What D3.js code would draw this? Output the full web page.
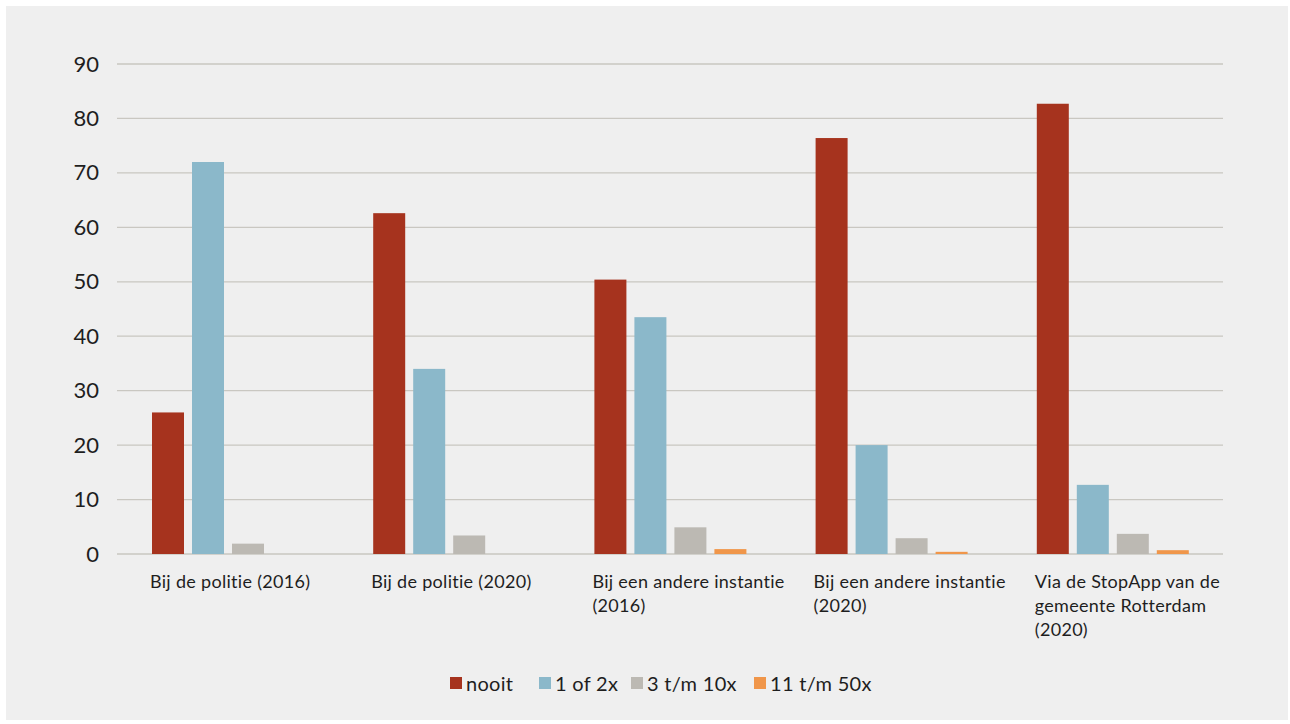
<!DOCTYPE html>
<html><head><meta charset="utf-8">
<script src="https://cdn.jsdelivr.net/npm/d3@7"></script>
<style>
html,body{margin:0;padding:0;background:#fff;}
svg{display:block;font-family:Lato,"Open Sans",sans-serif;}
</style></head><body>
<svg id="c" width="1290" height="724"></svg>
<script>
const categories = [
  ["Bij de politie (2016)"],
  ["Bij de politie (2020)"],
  ["Bij een andere instantie", "(2016)"],
  ["Bij een andere instantie", "(2020)"],
  ["Via de StopApp van de", "gemeente Rotterdam", "(2020)"]
];
const seriesNames = ["nooit", "1 of 2x", "3 t/m 10x", "11 t/m 50x"];
const nooit   = [26.0, 62.6, 50.4, 76.4, 82.7];
const eenOf2  = [72.0, 34.0, 43.5, 20.0, 12.7];
const drieTot10 = [1.9, 3.4, 4.9, 2.9, 3.7];
const elfTot50  = [0, 0, 0.9, 0.4, 0.7];
const yTicks = [0, 10, 20, 30, 40, 50, 60, 70, 80, 90];
const colors = ["#a6331e", "#8bb8ca", "#bcb9b3", "#f0964a"];

const series = [nooit, eenOf2, drieTot10, elfTot50];
const svg = d3.select("#c");
svg.append("rect").attr("x", 6).attr("y", 6).attr("width", 1282).attr("height", 714).attr("fill", "#efefef");

const mLeft = 117, mRight = 1223, mTop = 64, mBottom = 554;
const y = d3.scaleLinear().domain([0, 90]).range([mBottom, mTop]);
const x0 = d3.scaleBand().domain(d3.range(categories.length)).range([mLeft, mRight]).paddingInner(0).paddingOuter(0);
const x1 = d3.scaleBand().domain(d3.range(series.length)).range([35, 35 + 152]).paddingInner(0.2).paddingOuter(0);

// gridlines
svg.append("g").selectAll("line").data(yTicks).join("line")
  .attr("x1", mLeft).attr("x2", mRight)
  .attr("y1", d => y(d)).attr("y2", d => y(d))
  .attr("stroke", "#c9c7c1").attr("stroke-width", 1.3);

// y axis labels
const yAxis = d3.axisLeft(y).tickValues(yTicks).tickSize(0).tickPadding(0);
const ga = svg.append("g").attr("transform", `translate(${99},0)`).call(yAxis);
ga.select(".domain").remove();
ga.selectAll("text").attr("font-size", 22).attr("fill", "#1e1e1e").attr("font-family", "Lato, sans-serif");

// bars
const groups = svg.append("g").selectAll("g").data(categories).join("g")
  .attr("transform", (d, i) => `translate(${x0(i)},0)`);
groups.selectAll("rect").data((d, i) => series.map((s, j) => ({j, v: s[i]}))).join("rect")
  .attr("x", d => x1(d.j)).attr("width", x1.bandwidth())
  .attr("y", d => y(d.v)).attr("height", d => mBottom - y(d.v))
  .attr("fill", d => colors[d.j]);

// category labels
groups.each(function(lines, i) {
  const t = d3.select(this).append("text")
    .attr("x", x1(0) - 2).attr("y", 588)
    .attr("font-size", 18).attr("letter-spacing", 0.3).attr("fill", "#1e1e1e");
  lines.forEach((l, k) => t.append("tspan").attr("x", x1(0) - 2).attr("dy", k ? 24 : 0).text(l));
});

// legend
const legendX = [450, 539, 631, 754];
const lg = svg.append("g").selectAll("g").data(seriesNames).join("g")
  .attr("transform", (d, i) => `translate(${legendX[i]},677)`);
lg.append("rect").attr("width", 12).attr("height", 12).attr("fill", (d, i) => colors[i]);
lg.append("text").attr("x", 16).attr("y", 13.5).attr("font-size", 20).attr("letter-spacing", 0.3).attr("fill", "#1e1e1e").text(d => d);
</script>
</body></html>
